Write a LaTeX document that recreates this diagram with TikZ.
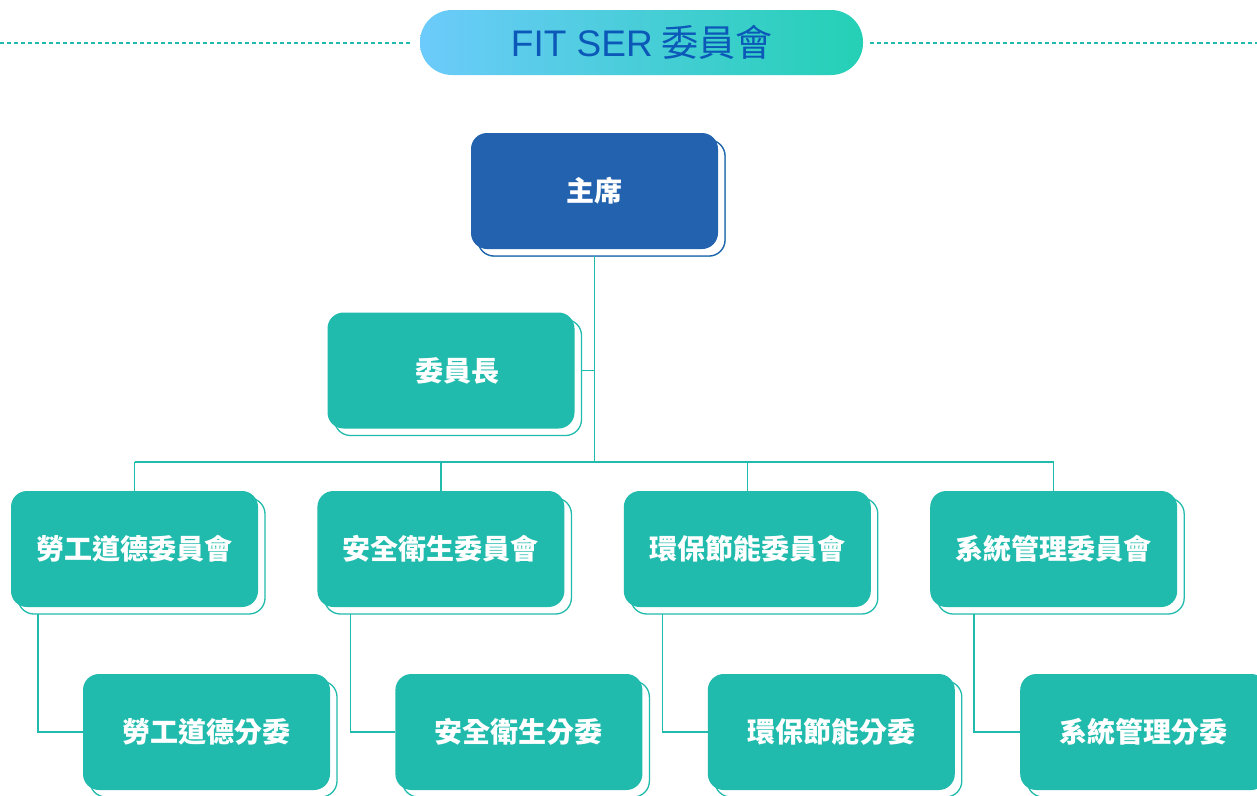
\documentclass[tikz,border=0pt]{standalone}
\usepackage{fontspec}
\setmainfont{Noto Sans CJK TC}
\newfontfamily\latinsans{Liberation Sans}
\usepackage{tikz}
\usetikzlibrary{positioning,shadows}

\definecolor{teal1}{HTML}{21BBAD}
\definecolor{navy1}{HTML}{2362AE}
\definecolor{skyL}{HTML}{6CCBFB}
\definecolor{skyR}{HTML}{24D0B5}
\definecolor{titletxt}{HTML}{0B58B8}

\tikzset{
  unitbox/.style={rectangle, rounded corners=16pt, minimum width=247pt, minimum height=116pt,
    fill=teal1, text=white, font=\fontsize{28}{32}\selectfont\bfseries,
    general shadow={fill=white, draw=teal1, line width=1.3pt, shadow xshift=7pt, shadow yshift=-7pt}},
  chairbox/.style={unitbox, fill=navy1,
    general shadow={fill=white, draw=navy1, line width=1.3pt, shadow xshift=7pt, shadow yshift=-7pt}},
  conn/.style={draw=teal1, line width=1.4pt},
  guide/.style={draw=teal1, line width=1.6pt, dash pattern=on 4pt off 3pt},
}

\begin{document}
\begin{tikzpicture}[x=1pt, y=-1pt]
  \useasboundingbox[fill=white] (0,0) rectangle (1257,795);

  % title
  \node[rectangle, rounded corners=32pt, minimum width=443pt, minimum height=65pt,
    left color=skyL, right color=skyR, text=titletxt,
    font=\fontsize{37}{40}\selectfont] (title) at (641.5,42.5) {{\latinsans FIT SER} 委員會};
  \coordinate (lend) at (0,43);
  \coordinate (rend) at (1257,43);
  \draw[guide] (lend) -- ([xshift=-7pt]title.west |- lend);
  \draw[guide] ([xshift=7pt]title.east |- rend) -- (rend);

  % nodes
  \node[chairbox] (chair) at (594.5,191) {主席};
  \node[unitbox] (vice) at (451,370.5) {\hspace*{12pt}委員長};

  \node[unitbox] (c1) at (134.5,549) {勞工道德委員會};
  \node[unitbox, right=59pt of c1] (c2) {安全衛生委員會};
  \node[unitbox, right=59pt of c2] (c3) {環保節能委員會};
  \node[unitbox, right=59pt of c3] (c4) {系統管理委員會};

  \node[unitbox] (s1) at (206.5,732) {勞工道德分委};
  \node[unitbox, right=65pt of s1] (s2) {安全衛生分委};
  \node[unitbox, right=65pt of s2] (s3) {環保節能分委};
  \node[unitbox, right=65pt of s3] (s4) {系統管理分委};

  % connectors
  \coordinate (bar) at (594.5,462);
  \draw[conn] ([yshift=-7pt]chair.south) -- (bar);
  \draw[conn] ([xshift=7pt]vice.east) -- (vice.east -| bar);
  \draw[conn] (c1.north |- bar) -- (c4.north |- bar);
  \foreach \c in {c1,c2,c3,c4}
    \draw[conn] (\c.north |- bar) -- (\c.north);

  \draw[conn] ([xshift=27pt,yshift=-7pt]c1.south west) |- (s1.west);
  \draw[conn] ([xshift=33pt,yshift=-7pt]c2.south west) |- (s2.west);
  \draw[conn] ([xshift=39pt,yshift=-7pt]c3.south west) |- (s3.west);
  \draw[conn] ([xshift=44pt,yshift=-7pt]c4.south west) |- (s4.west);
\end{tikzpicture}
\end{document}
